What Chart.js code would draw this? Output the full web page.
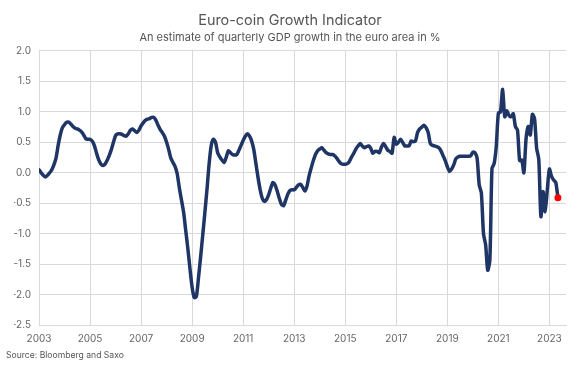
<!DOCTYPE html>
<html>
<head>
<meta charset="utf-8">
<title>Euro-coin Growth Indicator</title>
<script src="https://cdn.jsdelivr.net/npm/chart.js"></script>
<style>
  html, body { margin: 0; padding: 0; background: #fff; }
  #wrap { position: relative; width: 583px; height: 368px; }
  #source { position: absolute; left: 6px; top: 350px; font: 8.6px Inter, sans-serif; color: #555; white-space: nowrap; }
</style>
</head>
<body>
<div id="wrap">
  <canvas id="growth-chart"></canvas>
  <div id="source">Source: Bloomberg and Saxo</div>
</div>
<script>
/*****************************/
/**   Data (monthly, % q/q)  **/
/*****************************/

var startYear = 2003; // first value is January 2003

var growth = [
  0.05, 0.00, -0.04, -0.07, -0.04, 0.00, 0.05, 0.13, 0.24, 0.45, 0.62, 0.74,      // 2003
  0.79, 0.83, 0.83, 0.80, 0.76, 0.73, 0.72, 0.70, 0.67, 0.62, 0.56, 0.55,         // 2004
  0.55, 0.52, 0.45, 0.33, 0.22, 0.15, 0.12, 0.14, 0.20, 0.28, 0.38, 0.50,         // 2005
  0.61, 0.64, 0.64, 0.63, 0.61, 0.60, 0.64, 0.70, 0.72, 0.69, 0.66, 0.70,         // 2006
  0.77, 0.82, 0.86, 0.88, 0.89, 0.91, 0.91, 0.86, 0.78, 0.71, 0.66, 0.60,         // 2007
  0.50, 0.38, 0.24, 0.17, 0.10, -0.02, -0.25, -0.45, -0.65, -0.95, -1.25, -1.58,  // 2008
  -1.88, -2.05, -2.03, -1.72, -1.38, -1.02, -0.65, -0.27, 0.15, 0.45, 0.55, 0.50, // 2009
  0.33, 0.26, 0.21, 0.17, 0.25, 0.36, 0.33, 0.30, 0.29, 0.30, 0.37, 0.45,         // 2010
  0.53, 0.60, 0.64, 0.60, 0.52, 0.38, 0.15, -0.08, -0.28, -0.42, -0.47, -0.44,    // 2011
  -0.36, -0.25, -0.16, -0.20, -0.30, -0.42, -0.52, -0.54, -0.45, -0.35, -0.29, -0.28, // 2012
  -0.28, -0.24, -0.20, -0.19, -0.24, -0.30, -0.22, -0.05, 0.08, 0.20, 0.30, 0.36, // 2013
  0.39, 0.41, 0.37, 0.33, 0.31, 0.30, 0.30, 0.28, 0.24, 0.19, 0.15, 0.14,         // 2014
  0.14, 0.15, 0.19, 0.26, 0.32, 0.39, 0.44, 0.48, 0.44, 0.41, 0.43, 0.44,         // 2015
  0.40, 0.32, 0.35, 0.35, 0.33, 0.42, 0.48, 0.43, 0.37, 0.35, 0.32, 0.58,         // 2016
  0.47, 0.50, 0.55, 0.50, 0.44, 0.44, 0.44, 0.52, 0.51, 0.52, 0.66, 0.72,         // 2017
  0.75, 0.78, 0.74, 0.66, 0.48, 0.45, 0.44, 0.43, 0.41, 0.36, 0.28, 0.20,         // 2018
  0.10, 0.02, 0.06, 0.13, 0.23, 0.26, 0.27, 0.27, 0.27, 0.27, 0.27, 0.28,         // 2019
  0.34, 0.33, 0.24, -0.20, -0.33, -1.00, -1.18, -1.60, -1.43, 0.07, 0.15, 0.43,   // 2020
  0.98, 1.00, 1.37, 0.92, 1.02, 0.94, 0.92, 0.97, 0.76, 0.70, 0.20, 0.21,         // 2021
  0.00, 0.55, 0.76, 0.62, 0.96, 0.89, 0.40, 0.22, -0.72, -0.31, -0.64, -0.28,     // 2022
  0.06, -0.06, -0.12, -0.16, -0.41                                                // 2023
];

var yearTicks = [2003, 2005, 2007, 2009, 2011, 2013, 2015, 2017, 2019, 2021, 2023];
var yMin = -2.5, yMax = 2.0, yStep = 0.5;
var xMax = 2023.65;

/*****************************/
/**   Chart                  **/
/*****************************/

Chart.defaults.font.family = "Inter, 'Noto Sans', sans-serif";
Chart.defaults.color = '#666';

var gridColor = '#d9d9d9';

var points = growth.map(function (v, i) {
    return { x: startYear + i / 12, y: v };
});
var lastPoint = points[points.length - 1];

var ctx = document.getElementById('growth-chart').getContext('2d');
var growthChart = new Chart(ctx, {
    type: 'line',
    data: {
        datasets: [
            {
                data: [lastPoint],
                showLine: false,
                pointRadius: 3.5,
                pointBorderWidth: 0,
                pointBackgroundColor: '#ff0000',
                order: 0
            },
            {
                data: points,
                borderColor: '#1f3565',
                borderWidth: 3.5,
                borderJoinStyle: 'round',
                borderCapStyle: 'round',
                pointRadius: 0,
                tension: 0.25,
                order: 1
            }
        ]
    },
    options: {
        responsive: true,
        maintainAspectRatio: false,
        animation: false,
        // left/right padding keep the titles centred on the page
        layout: { padding: { left: 14, right: 17, top: 0, bottom: 0 } },
        plugins: {
            legend: { display: false },
            tooltip: { enabled: false },
            title: {
                display: true,
                text: 'Euro-coin Growth Indicator',
                color: '#555',
                font: { size: 14.4, weight: 'normal' },
                padding: { top: 12, bottom: 2 }
            },
            subtitle: {
                display: true,
                text: 'An estimate of quarterly GDP growth in the euro area in %',
                color: '#555',
                font: { size: 11, weight: 'normal' },
                padding: { top: 0, bottom: 6.5 }
            }
        },
        scales: {
            x: {
                type: 'linear',
                min: startYear,
                max: xMax,
                afterBuildTicks: function (scale) {
                    scale.ticks = yearTicks.map(function (y) { return { value: y }; });
                },
                afterFit: function (scale) { scale.height = 43; },
                grid: { color: gridColor, drawTicks: false },
                border: { color: gridColor },
                ticks: {
                    padding: 8,
                    color: '#666',
                    font: { size: 10 },
                    maxRotation: 0,
                    autoSkip: false,
                    callback: function (v) { return String(v); }
                }
            },
            y: {
                min: yMin,
                max: yMax,
                afterFit: function (scale) { scale.width = 25; },
                grid: { color: gridColor, drawTicks: false },
                border: { color: gridColor },
                ticks: {
                    stepSize: yStep,
                    padding: 8,
                    color: '#666',
                    font: { size: 10 },
                    callback: function (v) { return v.toFixed(1); }
                }
            }
        }
    }
});
</script>
</body>
</html>
